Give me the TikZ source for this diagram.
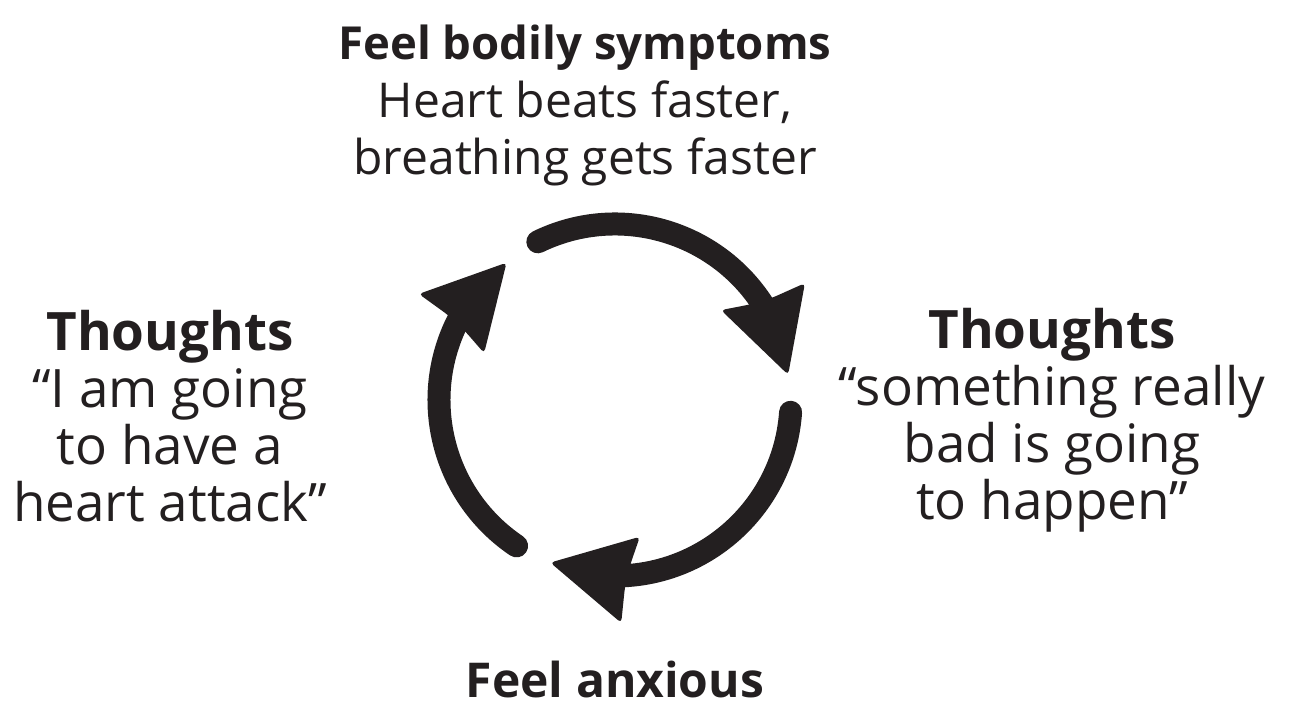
\documentclass[tikz,border=0pt]{standalone}
\usepackage{fontspec}
\setmainfont{Open Sans}
\definecolor{ink}{RGB}{35,31,32}
\begin{document}
\begin{tikzpicture}[x=1pt,y=1pt,
  txt/.style={text=ink, align=center, anchor=base, inner sep=0pt,
    font=\fontsize{48pt}{57.5pt}\selectfont},
  sidetxt/.style={txt, font=\fontsize{53pt}{57.3pt}\selectfont},
  arcline/.style={draw=ink, line width=23pt, line cap=round},
  head/.style={fill=ink, rounded corners=4pt}]
\useasboundingbox (0,0) rectangle (1290,701);
\coordinate (C) at (615,301);
\begin{scope}
  \clip (0,79) rectangle (1290,701);
  \foreach \r in {0,120,240}{
    \begin{scope}[shift={(C)}, rotate=\r]
      \draw[arcline] (116:176pt) arc[start angle=116, end angle=30, radius=176pt];
      \fill[head] (8.3:175pt) -- (31.6:223pt) -- (33:188pt) -- (35.5:164pt) -- (40.3:139pt) -- cycle;
    \end{scope}
  }
\end{scope}
\node[txt] (top) at (585,526) {{\fontsize{45.5pt}{57.5pt}\selectfont\textbf{Feel bodily symptoms}}\\Heart beats faster,\\breathing gets faster};
\node[sidetxt] (left) at (170,179) {\textbf{Thoughts}\\“I am going\\to have a\\heart attack”};
\node[sidetxt] (right) at (1052,181) {\textbf{Thoughts}\\“something really\\bad is going\\to happen”};
\node[txt] (bottom) at (615,3) {\textbf{Feel anxious}};
\end{tikzpicture}
\end{document}
